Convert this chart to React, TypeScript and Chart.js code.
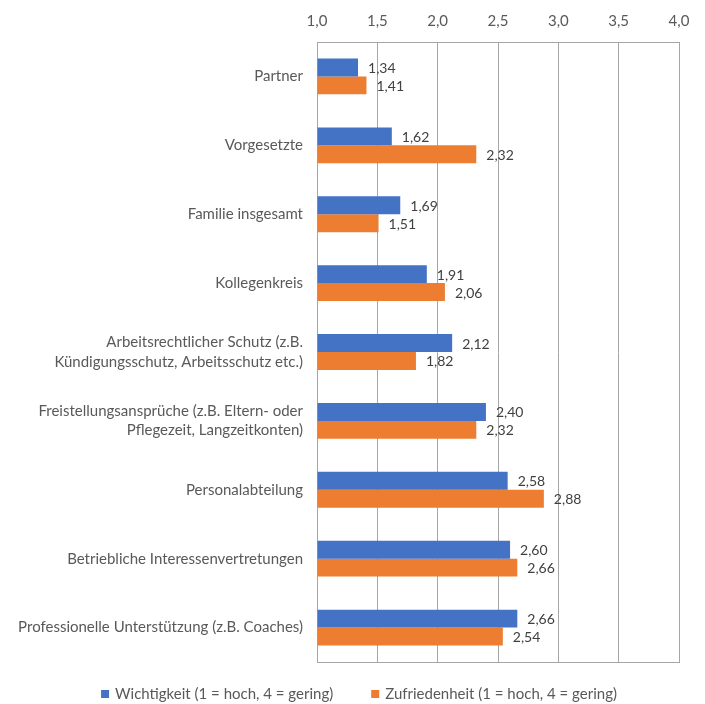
import React, { useEffect, useRef } from "react";
import { Chart, registerables } from "chart.js";

Chart.register(...registerables);

const categories: string[][] = [
  ["Partner"],
  ["Vorgesetzte"],
  ["Familie insgesamt"],
  ["Kollegenkreis"],
  ["Arbeitsrechtlicher Schutz (z.B.", "Kündigungsschutz, Arbeitsschutz etc.)"],
  ["Freistellungsansprüche (z.B. Eltern- oder", "Pflegezeit, Langzeitkonten)"],
  ["Personalabteilung"],
  ["Betriebliche Interessenvertretungen"],
  ["Professionelle Unterstützung (z.B. Coaches)"],
];

const wichtigkeit = [1.34, 1.62, 1.69, 1.91, 2.12, 2.4, 2.58, 2.6, 2.66];
const zufriedenheit = [1.41, 2.32, 1.51, 2.06, 1.82, 2.32, 2.88, 2.66, 2.54];

const seriesNames = [
  "Wichtigkeit (1 = hoch, 4 = gering)",
  "Zufriedenheit (1 = hoch, 4 = gering)",
];
const seriesColors = ["#4472C4", "#ED7D31"];

const FONT = "Lato, 'Noto Sans', sans-serif";
const TEXT = "#595959";
const fmt = (v: number) => v.toFixed(2).replace(".", ",");

const valueLabels = {
  id: "valueLabels",
  afterDatasetsDraw(chart: any) {
    const ctx = chart.ctx;
    ctx.save();
    ctx.font = `14px ${FONT}`;
    ctx.fillStyle = "#404040";
    ctx.textAlign = "left";
    ctx.textBaseline = "middle";
    chart.data.datasets.forEach((ds: any, i: number) => {
      const meta = chart.getDatasetMeta(i);
      meta.data.forEach((bar: any, j: number) => {
        ctx.fillText(fmt(ds.data[j]), bar.x + 10, bar.y + 1);
      });
    });
    ctx.restore();
  },
};

const bottomLegend = {
  id: "bottomLegend",
  afterDraw(chart: any) {
    const ctx = chart.ctx;
    ctx.save();
    ctx.font = `15px ${FONT}`;
    ctx.textBaseline = "middle";
    ctx.textAlign = "left";
    const box = 8;
    const gapText = 6;
    const gapItem = 38;
    const items = chart.data.datasets.map((d: any) => ({
      text: d.label,
      color: d.backgroundColor,
      w: ctx.measureText(d.label).width,
    }));
    const total = items.reduce((s: number, it: any, i: number) => s + box + gapText + it.w + (i > 0 ? gapItem : 0), 0);
    let x = 359 - total / 2;
    const y = 694;
    items.forEach((it: any, i: number) => {
      if (i > 0) x += gapItem;
      ctx.fillStyle = it.color;
      ctx.fillRect(x, y - box / 2, box, box);
      x += box + gapText;
      ctx.fillStyle = TEXT;
      ctx.fillText(it.text, x, y);
      x += it.w;
    });
    ctx.restore();
  },
};

export default function App() {
  const ref = useRef<HTMLCanvasElement>(null);
  useEffect(() => {
    if (!ref.current) return;
    const chart = new Chart(ref.current, {
      type: "bar",
      data: {
        labels: categories,
        datasets: [
          {
            label: seriesNames[0],
            data: wichtigkeit,
            backgroundColor: seriesColors[0],
            base: 1,
            barPercentage: 1,
            categoryPercentage: 0.52,
          },
          {
            label: seriesNames[1],
            data: zufriedenheit,
            backgroundColor: seriesColors[1],
            base: 1,
            barPercentage: 1,
            categoryPercentage: 0.52,
          },
        ],
      },
      options: {
        indexAxis: "y",
        animation: false,
        responsive: false,
        layout: { padding: { left: 0, right: 26, top: 0, bottom: 42 } },
        scales: {
          x: {
            position: "top",
            min: 1,
            max: 4,
            ticks: {
              stepSize: 0.5,
              color: TEXT,
              font: { family: FONT, size: 15 },
              padding: 12,
              callback: (v: any) => Number(v).toFixed(1).replace(".", ","),
            },
            grid: { color: "#a6a6a6", drawTicks: false },
            border: { color: "#a6a6a6" },
            afterFit: (s: any) => {
              s.height = 42;
            },
          },
          y: {
            ticks: {
              color: TEXT,
              font: { family: FONT, size: 15, lineHeight: 1.3 },
              padding: 14,
            },
            grid: { display: false, drawTicks: false },
            border: { color: "#a6a6a6" },
            afterFit: (s: any) => {
              s.width = 317;
            },
          },
          x2: {
            position: "bottom",
            axis: "x",
            min: 1,
            max: 4,
            ticks: { display: false },
            grid: { display: false, drawTicks: false },
            border: { color: "#a6a6a6" },
            afterFit: (s: any) => {
              s.height = 0;
            },
          },
          y2: {
            position: "right",
            axis: "y",
            type: "category",
            ticks: { display: false },
            grid: { display: false, drawTicks: false },
            border: { color: "#a6a6a6" },
            afterFit: (s: any) => {
              s.width = 0;
            },
          },
        },
        plugins: {
          legend: { display: false },
          tooltip: { enabled: false },
        },
      } as any,
      plugins: [valueLabels, bottomLegend],
    });
    return () => chart.destroy();
  }, []);
  return (
    <div style={{ position: "fixed", left: 0, top: 0, width: 705, height: 704, background: "#fff" }}>
      <canvas ref={ref} width={705} height={704} />
    </div>
  );
}
